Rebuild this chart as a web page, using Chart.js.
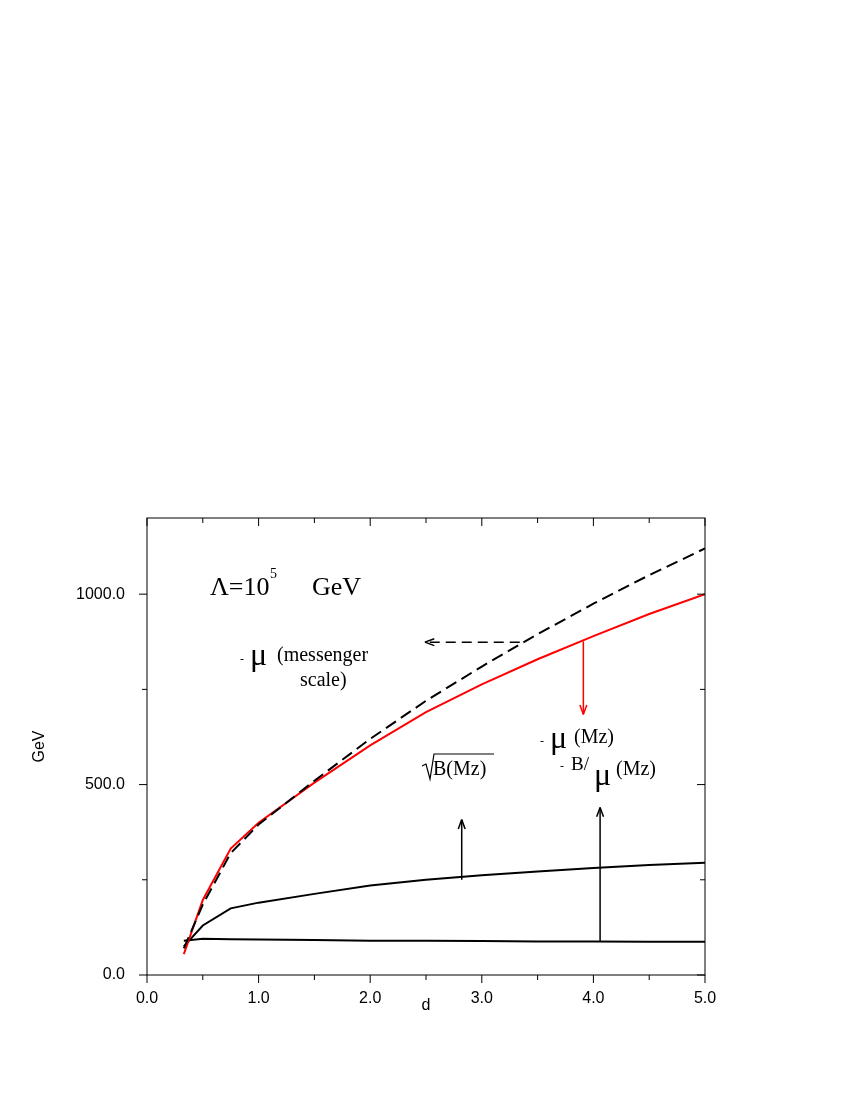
<!DOCTYPE html>
<html><head><meta charset="utf-8">
<script src="https://cdn.jsdelivr.net/npm/chart.js@4/dist/chart.umd.min.js"></script>
<style>html,body{margin:0;padding:0;background:#fff}#w{width:850px;height:1100px}</style>
</head><body><div id="w"><canvas id="c"></canvas></div>
<script>
const dVals = [0.33, 0.5, 0.75, 1.0, 1.5, 2.0, 2.5, 3.0, 3.5, 4.0, 4.5, 5.0];
const muMessenger = [70, 185, 320, 395, 510, 620, 720, 810, 895, 975, 1050, 1120];
const muMz = [55, 197, 332, 400, 505, 603, 690, 763, 829, 890, 948, 1000];
const sqrtB = [75, 130, 175, 190, 213, 235, 250, 262, 272, 281, 289, 295];
const bOverMu = [90, 95, 94, 93, 92, 90, 90, 89, 88, 88, 87, 87];
const xTickLabels = ['0.0','1.0','2.0','3.0','4.0','5.0'];
const yTickLabels = ['0.0','500.0','1000.0'];

const pts = a => a.map((v,i)=>({x:dVals[i], y:v}));
const serif = '"Liberation Serif", "DejaVu Serif", serif';

const deco = {
  id:'deco',
  afterDraw(ch){
    const c = ch.ctx, xs = ch.scales.x, ys = ch.scales.y, a = ch.chartArea;
    c.save();
    c.strokeStyle='#000'; c.lineWidth=1;
    c.strokeRect(a.left, a.top, a.right-a.left, a.bottom-a.top);
    for (let v=0; v<=5.0001; v+=0.5){
      const px = xs.getPixelForValue(v), L = (Math.round(v*2)%2===0)?8:5;
      c.beginPath(); c.moveTo(px,a.bottom); c.lineTo(px,a.bottom+L);
      c.moveTo(px,a.top); c.lineTo(px,a.top+L); c.stroke();
    }
    for (let v=0; v<=1200; v+=250){
      const py = ys.getPixelForValue(v), L = (v%500===0)?8:5;
      c.beginPath(); c.moveTo(a.left,py); c.lineTo(a.left-L,py);
      c.moveTo(a.right,py); c.lineTo(a.right-L,py); c.stroke();
    }
    const X = v=>xs.getPixelForValue(v), Y = v=>ys.getPixelForValue(v);
    function arrow(x1,y1,x2,y2,col,dash){
      c.strokeStyle=col; c.fillStyle=col; c.lineWidth=1.5; c.setLineDash(dash||[]);
      c.beginPath(); c.moveTo(X(x1),Y(y1)); c.lineTo(X(x2),Y(y2)); c.stroke(); c.setLineDash([]);
      const ang = Math.atan2(Y(y2)-Y(y1), X(x2)-X(x1));
      const hx=X(x2), hy=Y(y2);
      c.beginPath(); c.moveTo(hx,hy);
      c.lineTo(hx-10*Math.cos(ang-0.35), hy-10*Math.sin(ang-0.35));
      c.moveTo(hx,hy);
      c.lineTo(hx-10*Math.cos(ang+0.35), hy-10*Math.sin(ang+0.35)); c.stroke();
    }
    arrow(3.34,874,2.49,874,'#000',[10,6]);
    arrow(3.91,876,3.91,684,'#f00');
    arrow(2.82,250,2.82,408,'#000');
    arrow(4.06,87,4.06,440,'#000');
    c.fillStyle='#000'; c.textBaseline='alphabetic';
    c.font='26px '+serif; c.fillText('Λ=10', 210, 595);
    c.font='14px '+serif; c.fillText('5', 270, 578);
    c.font='26px '+serif; c.fillText('GeV', 312, 595);
    c.font='20px '+serif; c.fillText('(messenger', 277, 661); c.fillText('scale)', 300, 686);
    c.fillText('(Mz)', 574, 743); c.fillText('B(Mz)', 433, 775); c.fillText('(Mz)', 616, 775);
    c.font='12px '+serif; c.fillText('-', 240, 663); c.fillText('-', 540, 745); c.fillText('-', 560, 770);
    c.font='19px '+serif; c.fillText('B/', 571, 770);
    c.font='32px '+serif; c.fillText('μ', 250, 665); c.fillText('μ', 550, 748); c.fillText('μ', 594, 785);
    c.lineWidth=1.2; c.strokeStyle='#000';
    c.beginPath(); c.moveTo(422,766); c.lineTo(426,764); c.lineTo(430,779); c.lineTo(434,754); c.lineTo(494,754); c.stroke();
    c.restore();
  }
};

new Chart(document.getElementById('c'), {
  type:'line',
  data:{datasets:[
    {data:pts(muMessenger), borderColor:'#000', borderDash:[12,6], borderWidth:2},
    {data:pts(muMz), borderColor:'#f00', borderWidth:2},
    {data:pts(sqrtB), borderColor:'#000', borderWidth:2},
    {data:pts(bOverMu), borderColor:'#000', borderWidth:2}
  ]},
  options:{
    responsive:true, maintainAspectRatio:false, animation:false,
    elements:{point:{radius:0}, line:{tension:0}},
    plugins:{legend:{display:false}, tooltip:{enabled:false}},
    layout:{padding:{top:518, right:145, left:26, bottom:85}},
    scales:{
      x:{type:'linear', min:0, max:5, border:{display:false},
        grid:{display:false},
        ticks:{stepSize:1, autoSkip:false, maxRotation:0, color:'#000', font:{family:'"Liberation Sans", Arial', size:16}, padding:6,
          callback:(v)=>{const i=Math.round(v); return Math.abs(v-i)<1e-6?xTickLabels[i]:'';}},
        title:{display:true, text:'d', color:'#000', font:{family:'"Liberation Sans", Arial', size:16}, padding:{top:0,bottom:0}},
        afterFit:s=>{s.height=40;}},
      y:{min:0, max:1200, border:{display:false}, grid:{display:false},
        afterBuildTicks:s=>{s.ticks=[{value:0},{value:500},{value:1000}];},
        ticks:{autoSkip:false, color:'#000', font:{family:'"Liberation Sans", Arial', size:16}, padding:14,
          callback:(v)=>{const i=Math.round(v/500); return yTickLabels[i]||'';}},
        title:{display:true, text:'GeV', color:'#000', font:{family:'"Liberation Sans", Arial', size:16}, padding:{bottom:20}},
        afterFit:s=>{s.width=121;}}
    }
  },
  plugins:[deco]
});
</script></body></html>
